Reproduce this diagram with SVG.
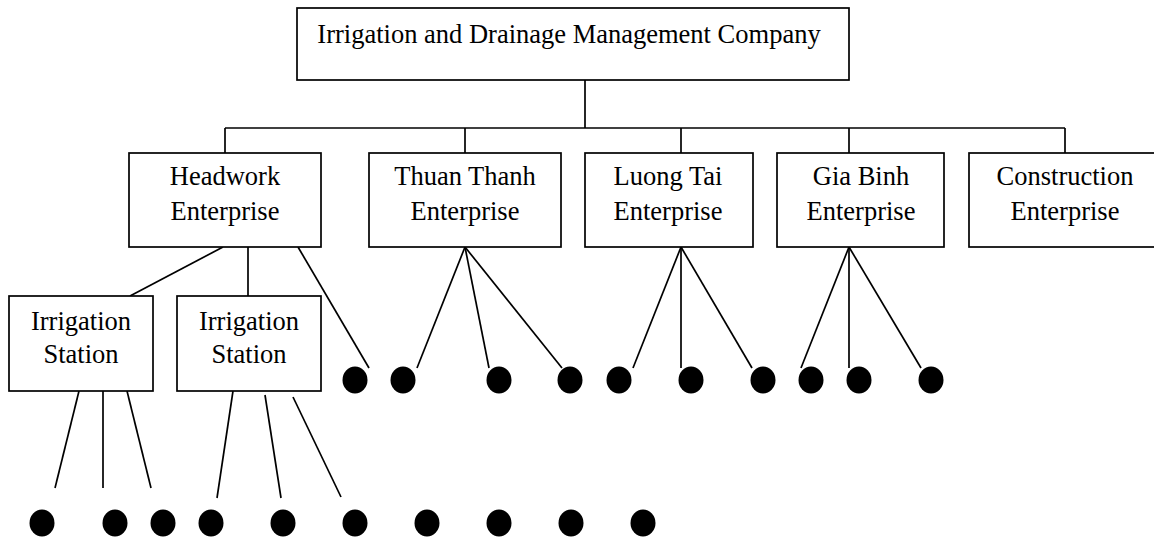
<svg xmlns="http://www.w3.org/2000/svg" width="1154" height="538" viewBox="0 0 1154 538">
<style>
.box{fill:#fff;stroke:#000;stroke-width:1.7}
.ln{stroke:#000;stroke-width:1.7;fill:none}
.t{font-family:"Liberation Serif","Times New Roman",serif;font-size:26.5px;fill:#000;text-anchor:middle}
.dot{fill:#000}
</style>
<rect width="1154" height="538" fill="#fff"/>
<g id="connectors">
<line class="ln" x1="585" y1="80" x2="585" y2="128"/>
<line class="ln" x1="225" y1="128" x2="1065" y2="128"/>
<line class="ln" x1="225" y1="128" x2="225" y2="153"/>
<line class="ln" x1="465" y1="128" x2="465" y2="153"/>
<line class="ln" x1="681" y1="128" x2="681" y2="153"/>
<line class="ln" x1="849" y1="128" x2="849" y2="153"/>
<line class="ln" x1="1065" y1="128" x2="1065" y2="153"/>
<line class="ln" x1="223" y1="247" x2="130" y2="296"/>
<line class="ln" x1="248" y1="247" x2="248" y2="296"/>
<line class="ln" x1="298" y1="247" x2="369" y2="368"/>
<line class="ln" x1="465" y1="247" x2="417" y2="368"/>
<line class="ln" x1="465" y1="247" x2="489" y2="368"/>
<line class="ln" x1="465" y1="247" x2="562" y2="368"/>
<line class="ln" x1="681" y1="247" x2="633" y2="368"/>
<line class="ln" x1="681" y1="247" x2="681" y2="368"/>
<line class="ln" x1="681" y1="247" x2="752" y2="368"/>
<line class="ln" x1="849" y1="247" x2="801" y2="368"/>
<line class="ln" x1="849" y1="247" x2="849" y2="368"/>
<line class="ln" x1="849" y1="247" x2="921" y2="368"/>
<line class="ln" x1="79" y1="391" x2="55" y2="488"/>
<line class="ln" x1="103" y1="391" x2="103" y2="488"/>
<line class="ln" x1="127" y1="391" x2="151" y2="488"/>
<line class="ln" x1="233" y1="391" x2="217" y2="498"/>
<line class="ln" x1="265" y1="395" x2="281" y2="498"/>
<line class="ln" x1="293" y1="397" x2="341" y2="497"/>
</g>
<g id="company">
<rect class="box" x="297" y="8" width="552" height="72"/>
<text class="t" x="569" y="43">Irrigation and Drainage Management Company</text>
</g>
<g id="headwork">
<rect class="box" x="129" y="153" width="192" height="94"/>
<text class="t" x="225" y="185">Headwork</text>
<text class="t" x="225" y="220">Enterprise</text>
</g>
<g id="thuanthanh">
<rect class="box" x="369" y="153" width="192" height="94"/>
<text class="t" x="465" y="185">Thuan Thanh</text>
<text class="t" x="465" y="220">Enterprise</text>
</g>
<g id="luongtai">
<rect class="box" x="585" y="153" width="168" height="94"/>
<text class="t" x="668" y="185">Luong Tai</text>
<text class="t" x="668" y="220">Enterprise</text>
</g>
<g id="giabinh">
<rect class="box" x="777" y="153" width="167" height="94"/>
<text class="t" x="861" y="185">Gia Binh</text>
<text class="t" x="861" y="220">Enterprise</text>
</g>
<g id="construction">
<rect class="box" x="969" y="153" width="192" height="94"/>
<text class="t" x="1065" y="185">Construction</text>
<text class="t" x="1065" y="220">Enterprise</text>
</g>
<g id="station1">
<rect class="box" x="9" y="296" width="144" height="95"/>
<text class="t" x="81" y="330">Irrigation</text>
<text class="t" x="81" y="363">Station</text>
</g>
<g id="station2">
<rect class="box" x="177" y="296" width="144" height="95"/>
<text class="t" x="249" y="330">Irrigation</text>
<text class="t" x="249" y="363">Station</text>
</g>
<g id="dots">
<ellipse class="dot" cx="355" cy="380" rx="12.5" ry="13.5"/>
<ellipse class="dot" cx="403" cy="380" rx="12.5" ry="13.5"/>
<ellipse class="dot" cx="499" cy="380" rx="12.5" ry="13.5"/>
<ellipse class="dot" cx="570" cy="380" rx="12.5" ry="13.5"/>
<ellipse class="dot" cx="619" cy="380" rx="12.5" ry="13.5"/>
<ellipse class="dot" cx="691" cy="380" rx="12.5" ry="13.5"/>
<ellipse class="dot" cx="763" cy="380" rx="12.5" ry="13.5"/>
<ellipse class="dot" cx="811" cy="380" rx="12.5" ry="13.5"/>
<ellipse class="dot" cx="859" cy="380" rx="12.5" ry="13.5"/>
<ellipse class="dot" cx="931" cy="380" rx="12.5" ry="13.5"/>
<ellipse class="dot" cx="42" cy="523" rx="12.5" ry="13.5"/>
<ellipse class="dot" cx="115" cy="523" rx="12.5" ry="13.5"/>
<ellipse class="dot" cx="163" cy="523" rx="12.5" ry="13.5"/>
<ellipse class="dot" cx="211" cy="523" rx="12.5" ry="13.5"/>
<ellipse class="dot" cx="283" cy="523" rx="12.5" ry="13.5"/>
<ellipse class="dot" cx="355" cy="523" rx="12.5" ry="13.5"/>
<ellipse class="dot" cx="427" cy="523" rx="12.5" ry="13.5"/>
<ellipse class="dot" cx="499" cy="523" rx="12.5" ry="13.5"/>
<ellipse class="dot" cx="571" cy="523" rx="12.5" ry="13.5"/>
<ellipse class="dot" cx="643" cy="523" rx="12.5" ry="13.5"/>
</g>
</svg>
